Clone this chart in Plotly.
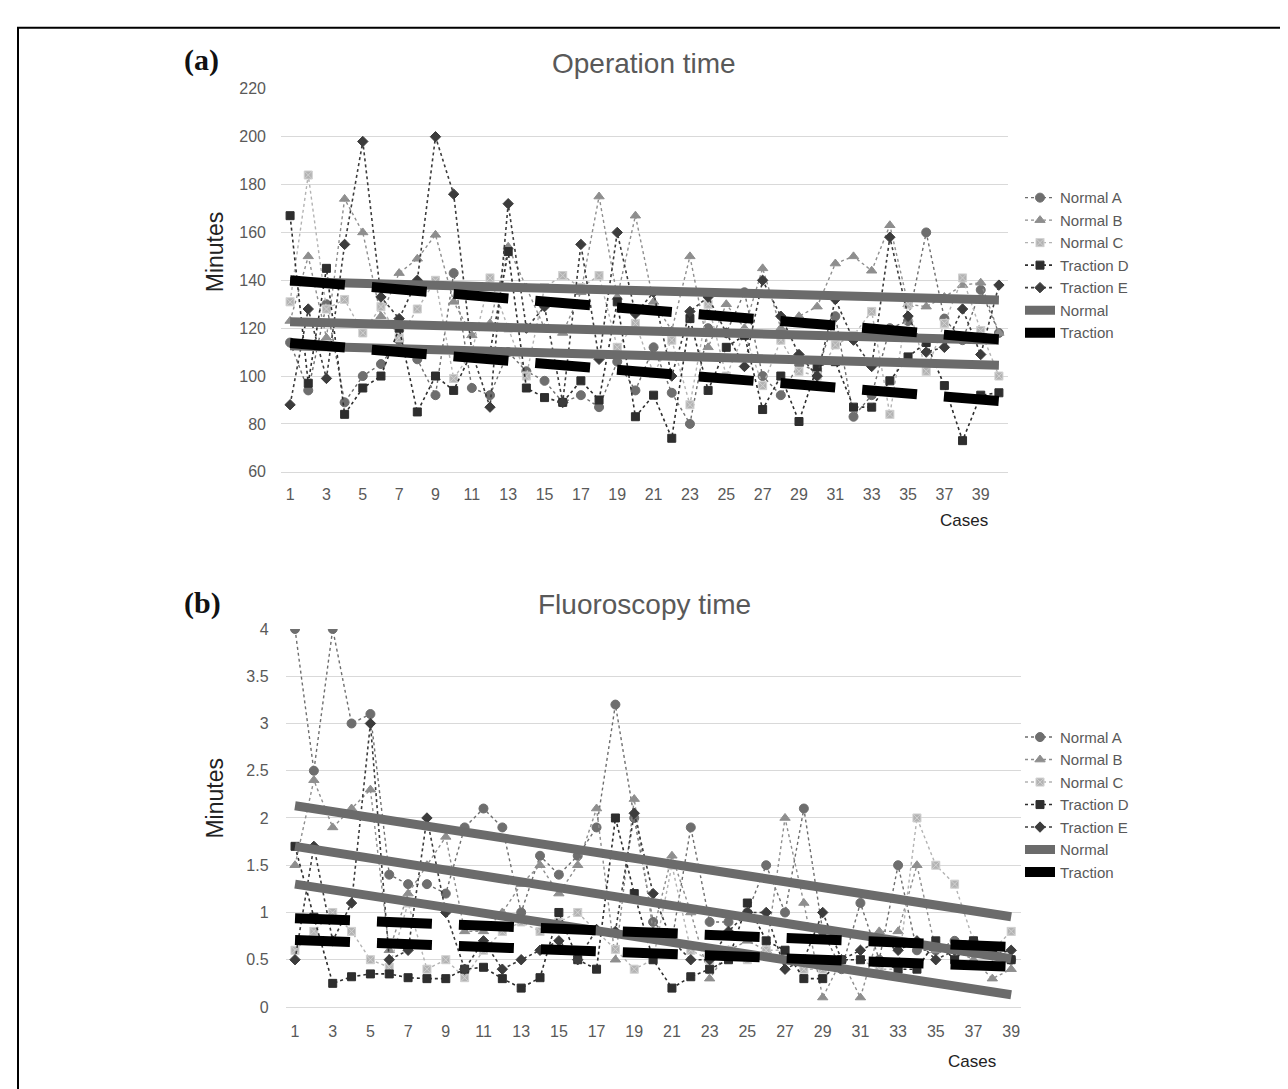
import plotly.graph_objects as go

W, H = 1288, 1089

# ---------------- Data: Operation time (minutes), cases 1-40 ----------------
cases_op = list(range(1, 41))
op_normal_a = [114, 94, 130, 89, 100, 105, 115, 107, 92, 143, 95, 92, 110, 102, 98, 89, 92, 87, 106, 94,
               112, 93, 80, 120, 118, 135, 100, 92, 105, 102, 125, 83, 92, 120, 123, 160, 124, 115, 136, 118]
op_normal_b = [123, 150, 116, 174, 160, 125, 143, 149, 159, 131, 117, 122, 154, 137, 120, 118, 135, 175, 133, 167,
               131, 119, 150, 112, 130, 120, 145, 120, 125, 129, 147, 150, 144, 163, 130, 129, 133, 138, 139, 118]
op_normal_c = [131, 184, 128, 132, 118, 129, 116, 128, 140, 99, 110, 141, 120, 100, 137, 142, 137, 142, 112, 122,
               101, 115, 88, 130, 100, 118, 96, 115, 102, 100, 113, 117, 127, 84, 130, 102, 122, 141, 119, 100]
op_traction_d = [167, 97, 145, 84, 95, 100, 120, 85, 100, 94, 110, 110, 152, 95, 91, 89, 98, 90, 131, 83,
                 92, 74, 124, 94, 112, 117, 86, 100, 81, 104, 106, 87, 87, 98, 108, 114, 96, 73, 92, 93]
op_traction_e = [88, 128, 99, 155, 198, 133, 124, 140, 200, 176, 110, 87, 172, 120, 129, 89, 155, 107, 160, 126,
                 135, 100, 127, 133, 118, 104, 140, 125, 109, 100, 132, 115, 104, 158, 125, 110, 112, 128, 109, 138]
# trend lines (value at first case, value at last case)
op_trend_normal = [[139.5, 131.8], [122.7, 115.0], [112.7, 104.5]]
op_trend_traction = [[140.0, 115.4], [113.8, 89.6]]
op_yticks = [60, 80, 100, 120, 140, 160, 180, 200, 220]

# ---------------- Data: Fluoroscopy time (minutes), cases 1-39 ----------------
cases_fl = list(range(1, 40))
fl_normal_a = [4.0, 2.5, 4.0, 3.0, 3.1, 1.4, 1.3, 1.3, 1.2, 1.9, 2.1, 1.9, 1.0, 1.6, 1.4, 1.6, 1.9, 3.2, 2.0, 0.9,
               0.7, 1.9, 0.9, 0.9, 1.0, 1.5, 1.0, 2.1, 0.8, 0.4, 1.1, 0.5, 1.5, 0.6, 0.6, 0.7, 0.7, 0.6, 0.5]
fl_normal_b = [1.5, 2.4, 1.9, 2.1, 2.3, 0.6, 1.2, 1.5, 1.8, 0.8, 0.8, 1.0, 1.3, 1.5, 1.2, 1.5, 2.1, 0.5, 2.2, 0.8,
               1.6, 1.0, 0.3, 0.6, 0.7, 0.6, 2.0, 1.1, 0.1, 0.5, 0.1, 0.8, 0.8, 1.5, 0.6, 0.6, 0.5, 0.3, 0.4]
fl_normal_c = [0.6, 0.8, 1.0, 0.8, 0.5, 0.42, 1.1, 0.4, 0.5, 0.31, 0.6, 0.8, 0.9, 0.8, 0.9, 1.0, 0.8, 0.61, 0.4, 0.5,
               1.5, 0.6, 0.5, 0.6, 0.5, 0.6, 0.6, 0.4, 0.4, 0.5, 0.5, 0.4, 0.4, 2.0, 1.5, 1.3, 0.7, 0.6, 0.8]
fl_traction_d = [1.7, 0.95, 0.25, 0.32, 0.35, 0.35, 0.31, 0.3, 0.3, 0.4, 0.42, 0.3, 0.2, 0.31, 1.0, 0.5, 0.4, 2.0, 1.2, 0.5,
                 0.2, 0.32, 0.4, 0.5, 1.1, 0.7, 0.6, 0.3, 0.3, 0.5, 0.5, 0.48, 0.4, 0.4, 0.7, 0.5, 0.7, 0.6, 0.5]
fl_traction_e = [0.5, 1.7, 0.7, 1.1, 3.0, 0.5, 0.6, 2.0, 1.0, 0.4, 0.7, 0.4, 0.5, 0.6, 0.7, 0.5, 0.82, 0.8, 2.05, 1.2,
                 0.7, 0.5, 0.5, 0.8, 1.0, 1.0, 0.4, 0.5, 1.0, 0.5, 0.6, 0.7, 0.6, 0.7, 0.5, 0.6, 0.6, 0.55, 0.6]
fl_trend_normal = [[2.13, 0.955], [1.70, 0.51], [1.30, 0.13]]
fl_trend_traction = [[0.94, 0.634], [0.71, 0.425]]
fl_yticks = [0, 0.5, 1, 1.5, 2, 2.5, 3, 3.5, 4]
fl_yticklabels = ["0", "0.5", "1", "1.5", "2", "2.5", "3", "3.5", "4"]

series_names = ["Normal A", "Normal B", "Normal C", "Traction D", "Traction E"]
series_colors = ["#6e6e6e", "#8e8e8e", "#b3b3b3", "#2e2e2e", "#3c3c3c"]
series_symbols = ["circle", "triangle-up", "square-x", "square", "diamond"]
series_sizes = [9, 9, 8, 8, 8]
normal_color = "#6b6b6b"
traction_color = "#000000"

FONT = "Liberation Sans, Arial, sans-serif"
TICK_COLOR = "#595959"


def xd(a, b):
    return [a / W, b / W]


def yd(top, bottom):
    return [1 - bottom / H, 1 - top / H]


fig = go.Figure()


def add_panel(xa, ya, legend, cases, series, trend_normal, trend_traction):
    for i, vals in enumerate(series):
        line_w = 1.6 if i >= 3 else 1.4
        fig.add_trace(go.Scatter(
            x=cases, y=vals, mode="lines+markers", name=series_names[i],
            xaxis=xa, yaxis=ya, legend=legend,
            line=dict(color=series_colors[i], width=line_w, dash="dot"),
            marker=dict(symbol=series_symbols[i], size=series_sizes[i], color=series_colors[i],
                        line=dict(color="#d0d0d0" if series_symbols[i] == "square-x" else series_colors[i],
                                  width=1)),
        ))
    x_ends = [cases[0], cases[-1]]
    for j, ends in enumerate(trend_normal):
        fig.add_trace(go.Scatter(
            x=x_ends, y=ends, mode="lines", name="Normal", xaxis=xa, yaxis=ya, legend=legend,
            legendgroup=legend + "normal", showlegend=(j == 0),
            line=dict(color=normal_color, width=9),
        ))
    for j, ends in enumerate(trend_traction):
        fig.add_trace(go.Scatter(
            x=x_ends, y=ends, mode="lines", name="Traction", xaxis=xa, yaxis=ya, legend=legend,
            legendgroup=legend + "traction", showlegend=(j == 0),
            line=dict(color=traction_color, width=10, dash="55px,27px"),
        ))


add_panel("x", "y", "legend", cases_op,
          [op_normal_a, op_normal_b, op_normal_c, op_traction_d, op_traction_e],
          op_trend_normal, op_trend_traction)
add_panel("x2", "y2", "legend2", cases_fl,
          [fl_normal_a, fl_normal_b, fl_normal_c, fl_traction_d, fl_traction_e],
          fl_trend_normal, fl_trend_traction)

axis_common = dict(showgrid=True, gridcolor="#d9d9d9", gridwidth=1, zeroline=False,
                   tickfont=dict(family=FONT, size=16, color=TICK_COLOR), ticks="")

legend_common = dict(font=dict(family=FONT, size=15, color=TICK_COLOR), bgcolor="rgba(0,0,0,0)",
                     xanchor="left", yanchor="top", itemwidth=30, tracegroupgap=0, traceorder="normal")

fig.update_layout(
    width=W, height=H, autosize=False,
    margin=dict(l=0, r=0, t=0, b=0),
    paper_bgcolor="white", plot_bgcolor="white",
    xaxis=dict(domain=xd(273, 1000), range=[0.5, 40.5], tickvals=cases_op[::2], anchor="y",
               showgrid=False, showline=True, linecolor="#d9d9d9", linewidth=1,
               tickfont=dict(family=FONT, size=16, color=TICK_COLOR), ticks="", ticklabelstandoff=8,
               zeroline=False),
    yaxis=dict(domain=yd(74, 463), range=[60, 220], tickvals=op_yticks, anchor="x",
               ticklabelstandoff=14, **axis_common),
    xaxis2=dict(domain=xd(277.6, 1012.6), range=[0.5, 39.5], tickvals=cases_fl[::2], anchor="y2",
                showgrid=False, showline=True, linecolor="#d9d9d9", linewidth=1,
                tickfont=dict(family=FONT, size=16, color=TICK_COLOR), ticks="", ticklabelstandoff=10,
                zeroline=False),
    yaxis2=dict(domain=yd(622.7, 1006.7), range=[0, 4], tickvals=fl_yticks, ticktext=fl_yticklabels,
                anchor="x2", ticklabelstandoff=16, **axis_common),
    legend=dict(x=1012 / W, y=1 - 168 / H, **legend_common),
    legend2=dict(x=1012 / W, y=1 - 716 / H, **legend_common),
    showlegend=True,
)

annotations = [
    dict(text="Operation time", x=636 / W, y=1 - 48 / H, font=dict(family=FONT, size=28, color=TICK_COLOR)),
    dict(text="Fluoroscopy time", x=636 / W, y=1 - 598 / H, font=dict(family=FONT, size=28, color=TICK_COLOR)),
    dict(text="Minutes", x=207 / W, y=1 - 240 / H, textangle=-90, font=dict(family=FONT, size=23, color="#222222")),
    dict(text="Minutes", x=207 / W, y=1 - 795 / H, textangle=-90, font=dict(family=FONT, size=23, color="#222222")),
    dict(text="Cases", x=956 / W, y=1 - 512 / H, font=dict(family=FONT, size=17, color="#222222")),
    dict(text="Cases", x=964 / W, y=1 - 1062 / H, font=dict(family=FONT, size=17, color="#222222")),
    dict(text="<b>(a)</b>", x=193 / W, y=1 - 45 / H,
         font=dict(family="Liberation Serif, Times New Roman, serif", size=30, color="#111111")),
    dict(text="<b>(b)</b>", x=194 / W, y=1 - 596 / H,
         font=dict(family="Liberation Serif, Times New Roman, serif", size=30, color="#111111")),
]
for a in annotations:
    a.update(xref="paper", yref="paper", showarrow=False, xanchor="center", yanchor="middle")
fig.update_layout(annotations=annotations)

fig.add_shape(type="rect", xref="paper", yref="paper",
              x0=10 / W, x1=1279 / W, y0=-0.01, y1=1 - 12 / H,
              line=dict(color="black", width=2), fillcolor="rgba(0,0,0,0)", layer="above")

fig.write_html("out.html")
